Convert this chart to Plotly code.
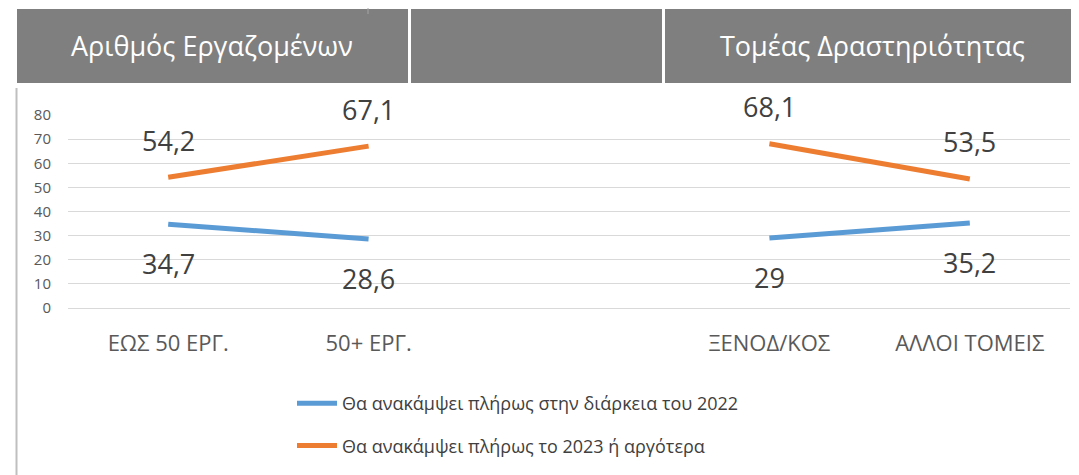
import plotly.graph_objects as go

categories = ["ΕΩΣ 50 ΕΡΓ.", "50+ ΕΡΓ.", " ", "ΞΕΝΟΔ/ΚΟΣ", "ΑΛΛΟΙ ΤΟΜΕΙΣ"]
series_2022 = [34.7, 28.6, None, 29, 35.2]
series_2023 = [54.2, 67.1, None, 68.1, 53.5]
name_2022 = "Θα ανακάμψει πλήρως στην διάρκεια του 2022"
name_2023 = "Θα ανακάμψει πλήρως το 2023 ή αργότερα"
header_left = "Αριθμός Εργαζομένων"
header_right = "Τομέας Δραστηριότητας"
y_ticks = [0, 10, 20, 30, 40, 50, 60, 70, 80]

W, H = 1079, 475
OFF = 8  # page body margin
FONT = "Open Sans"
BLUE = "#5b9bd5"
ORANGE = "#ed7d31"

def px(x):
    return (x - OFF) / W

def py(y):
    return 1 - (y - OFF) / H

fig = go.Figure()
fig.add_trace(go.Scatter(x=categories, y=series_2022, mode="lines", name=name_2022,
                         line=dict(color=BLUE, width=5), connectgaps=False,
                         legendgroup="a"))
fig.add_trace(go.Scatter(x=categories, y=series_2023, mode="lines", name=name_2023,
                         line=dict(color=ORANGE, width=5), connectgaps=False,
                         legendgroup="b"))

def fmt(v):
    return ("%g" % v).replace(".", ",")

annotations = []
for c, v in zip(categories, series_2022):
    if v is None:
        continue
    annotations.append(dict(x=c, y=v, xref="x", yref="y", text=fmt(v), showarrow=False,
                            xanchor="center", yanchor="middle",
                            yshift=-39, font=dict(family=FONT, size=27, color="#404040")))
for c, v in zip(categories, series_2023):
    if v is None:
        continue
    annotations.append(dict(x=c, y=v, xref="x", yref="y", text=fmt(v), showarrow=False,
                            xanchor="center", yanchor="middle",
                            yshift=37, font=dict(family=FONT, size=27, color="#404040")))

annotations.append(dict(x=px(212), y=py(46), xref="paper", yref="paper", text=header_left,
                        xanchor="center", yanchor="middle",
                        showarrow=False, font=dict(family=FONT, size=27, color="white")))
annotations.append(dict(x=px(872), y=py(46), xref="paper", yref="paper", text=header_right,
                        xanchor="center", yanchor="middle",
                        showarrow=False, font=dict(family=FONT, size=27, color="white")))

shapes = [
    dict(type="rect", xref="paper", yref="paper", x0=px(17), x1=px(408), y0=py(83), y1=py(9),
         fillcolor="#7f7f7f", line=dict(width=0), layer="below"),
    dict(type="rect", xref="paper", yref="paper", x0=px(411), x1=px(662), y0=py(83), y1=py(9),
         fillcolor="#7f7f7f", line=dict(width=0), layer="below"),
    dict(type="rect", xref="paper", yref="paper", x0=px(665), x1=1, y0=py(83), y1=py(9),
         fillcolor="#7f7f7f", line=dict(width=0), layer="below"),
    dict(type="line", xref="paper", yref="paper", x0=px(16.5), x1=px(16.5), y0=py(88), y1=0,
         line=dict(color="#bfbfbf", width=2)),
    dict(type="line", xref="paper", yref="paper", x0=px(368), x1=px(368), y0=py(8), y1=py(14),
         line=dict(color="#a6a6a6", width=1)),
]

fig.update_layout(
    width=W, height=H,
    margin=dict(l=0, r=0, t=0, b=0),
    paper_bgcolor="white", plot_bgcolor="white",
    font=dict(family=FONT, color="#595959"),
    annotations=annotations,
    shapes=shapes,
    showlegend=True,
    legend=dict(x=px(292), y=py(385), xanchor="left", yanchor="top",
                font=dict(family=FONT, size=18, color="#404040"),
                tracegroupgap=16, itemwidth=40, bgcolor="rgba(0,0,0,0)"),
    xaxis=dict(type="category", domain=[px(68), px(1070)], range=[-0.5, 4.5],
               showgrid=False, showline=False, zeroline=False, ticks="",
               tickfont=dict(family=FONT, size=22, color="#595959"),
               ticklabelstandoff=20, automargin=False, fixedrange=True),
    yaxis=dict(range=[0, 80], domain=[py(308), py(115)], tickvals=y_ticks,
               showgrid=True, gridcolor="#d9d9d9", gridwidth=1,
               zeroline=True, zerolinecolor="#d9d9d9", zerolinewidth=1,
               showline=False, ticks="", tickfont=dict(family=FONT, size=15, color="#595959"),
               ticklabelstandoff=16, automargin=False, fixedrange=True),
)

fig.write_html("out.html")
